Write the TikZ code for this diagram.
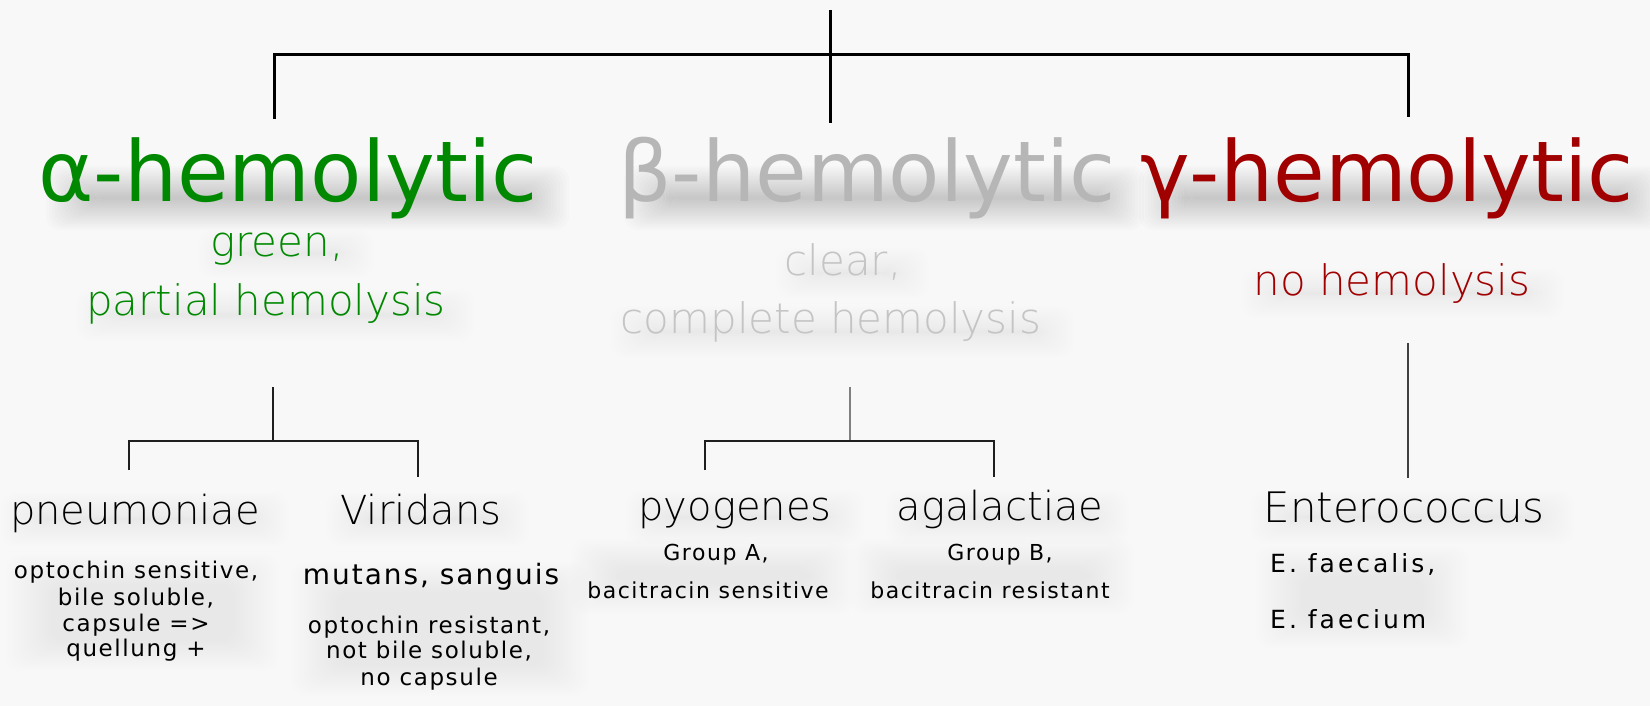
\documentclass[tikz,border=0pt]{standalone}
\usepackage{fontspec}
\setmainfont{DejaVu Sans}
\newfontfamily\thinf{DejaVuSans-ExtraLight.ttf}
\newfontfamily\smallf[LetterSpace=7]{DejaVu Sans}
\newfontfamily\widef[LetterSpace=12]{DejaVu Sans}
\definecolor{agreen}{HTML}{008800}
\definecolor{bgray}{HTML}{B6B6B6}
\definecolor{bgraylight}{HTML}{C4C4C4}
\definecolor{gred}{HTML}{A00000}
\definecolor{bgcol}{HTML}{F8F8F8}
% soft blurred band: x1 y1 x2 y2 opacity-per-layer
\newcommand\softband[5]{%
  \foreach \k in {0,...,15}{%
    \fill[black, opacity=#5, rounded corners=14pt]
      (#1-24+\k*3, #2-16+\k*2) rectangle (#3+24-\k*3, #4+16-\k*2);}}
\begin{document}
\begin{tikzpicture}[x=1pt,y=-1pt,
  head/.style={anchor=base, inner sep=0pt, font=\fontsize{84}{84}\selectfont},
  sub/.style={anchor=base, inner sep=0pt, font=\thinf\fontsize{42}{42}\selectfont},
  species/.style={anchor=base, inner sep=0pt, font=\thinf\fontsize{40}{40}\selectfont},
  note/.style={anchor=base, inner sep=0pt, font=\smallf\fontsize{23}{23}\selectfont},
  bignote/.style={anchor=base, inner sep=0pt, font=\smallf\fontsize{28}{28}\selectfont},
  cnote/.style={anchor=base, inner sep=0pt, font=\smallf\fontsize{22}{22}\selectfont},
  enote/.style={anchor=base west, inner sep=0pt, font=\widef\fontsize{25}{25}\selectfont},
  topline/.style={line width=3pt, black},
  lowline/.style={line width=2.5pt, black!88},
]
\fill[bgcol] (0,0) rectangle (1650,706);
\useasboundingbox (0,0) rectangle (1650,706);

% soft shadows
\softband{70}{182}{545}{214}{0.01}
\softband{648}{182}{1120}{214}{0.01}
\softband{1163}{182}{1640}{214}{0.01}
\softband{222}{245}{350}{262}{0.005}
\softband{100}{305}{450}{325}{0.005}
\softband{800}{264}{905}{282}{0.005}
\softband{635}{322}{1050}{342}{0.005}
\softband{1265}{284}{1540}{302}{0.005}
\softband{25}{508}{265}{530}{0.004}
\softband{350}{508}{505}{530}{0.004}
\softband{650}{506}{840}{528}{0.004}
\softband{910}{506}{1105}{528}{0.004}
\softband{1275}{506}{1550}{528}{0.004}
\softband{30}{570}{255}{655}{0.003}
\softband{315}{578}{565}{680}{0.003}
\softband{595}{555}{830}{598}{0.003}
\softband{875}{555}{1110}{598}{0.003}
\softband{1280}{562}{1445}{632}{0.003}

% top tree
\coordinate (root) at (830,10);
\coordinate (rootend) at (830,123);
\coordinate (ja) at (274,55);
\coordinate (jg) at (1408,55);
\coordinate (aend) at (274,119);
\coordinate (gend) at (1408,117);
\draw[topline] (root) -- (rootend);
\draw[topline] (aend) -- (ja) -- (jg) -- (gend);

% headings
\node[head, text=agreen] (alpha) at (288,201) {α-hemolytic};
\node[head, text=bgray] (beta) at (867,201) {β-hemolytic};
\node[head, text=gred] (gamma) at (1387,201) {γ-hemolytic};

% descriptions
\node[sub, text=agreen] (a1) at (277,256) {green,};
\node[sub, text=agreen] (a2) at (266,315) {partial hemolysis};
\node[sub, text=bgraylight] (b1) at (843,275) {clear,};
\node[sub, text=bgraylight] (b2) at (831,333) {complete hemolysis};
\node[sub, text=gred] (g1) at (1392,295) {no hemolysis};

% lower trees
\coordinate (as) at (273,387);
\coordinate (aj) at (273,441);
\coordinate (al) at (129,441);
\coordinate (ar) at (418,441);
\coordinate (ald) at (129,470);
\coordinate (ard) at (418,477);
\draw[lowline] (as) -- (aj);
\draw[lowline] (ald) -- (al) -- (ar) -- (ard);

\coordinate (bs) at (850,387);
\coordinate (bj) at (850,441);
\coordinate (bl) at (705,441);
\coordinate (br) at (994,441);
\coordinate (bld) at (705,470);
\coordinate (brd) at (994,477);
\draw[lowline, black!50] (bs) -- (bj);
\draw[lowline] (bld) -- (bl) -- (br) -- (brd);

\coordinate (gs) at (1408,343);
\coordinate (ge) at (1408,478);
\draw[lowline, black!75] (gs) -- (ge);

% species
\node[species] (pneu) at (135,524) {pneumoniae};
\node[species] (viri) at (421,524) {Viridans};
\node[species] (pyo) at (735,520) {pyogenes};
\node[species] (agal) at (1000,520) {agalactiae};
\node[species, font=\thinf\fontsize{42}{42}\selectfont] (ent) at (1404,522) {Enterococcus};

% notes
\node[note] (p1) at (136,578) {optochin sensitive,};
\node[note] (p2) at (136,605) {bile soluble,};
\node[note] (p3) at (136,631) {capsule =>};
\node[note] (p4) at (136,656) {quellung +};

\node[bignote] (v1) at (431,584) {mutans, sanguis};
\node[note] (v2) at (429,633) {optochin resistant,};
\node[note] (v3) at (429,658) {not bile soluble,};
\node[note] (v4) at (429,685) {no capsule};

\node[cnote] (y1) at (716,560) {Group A,};
\node[cnote] (y2) at (708,598) {bacitracin sensitive};
\node[cnote] (ag1) at (1000,560) {Group B,};
\node[cnote] (ag2) at (990,598) {bacitracin resistant};

\node[enote] (e1) at (1270,572) {E. faecalis,};
\node[enote] (e2) at (1270,628) {E. faecium};
\end{tikzpicture}
\end{document}
